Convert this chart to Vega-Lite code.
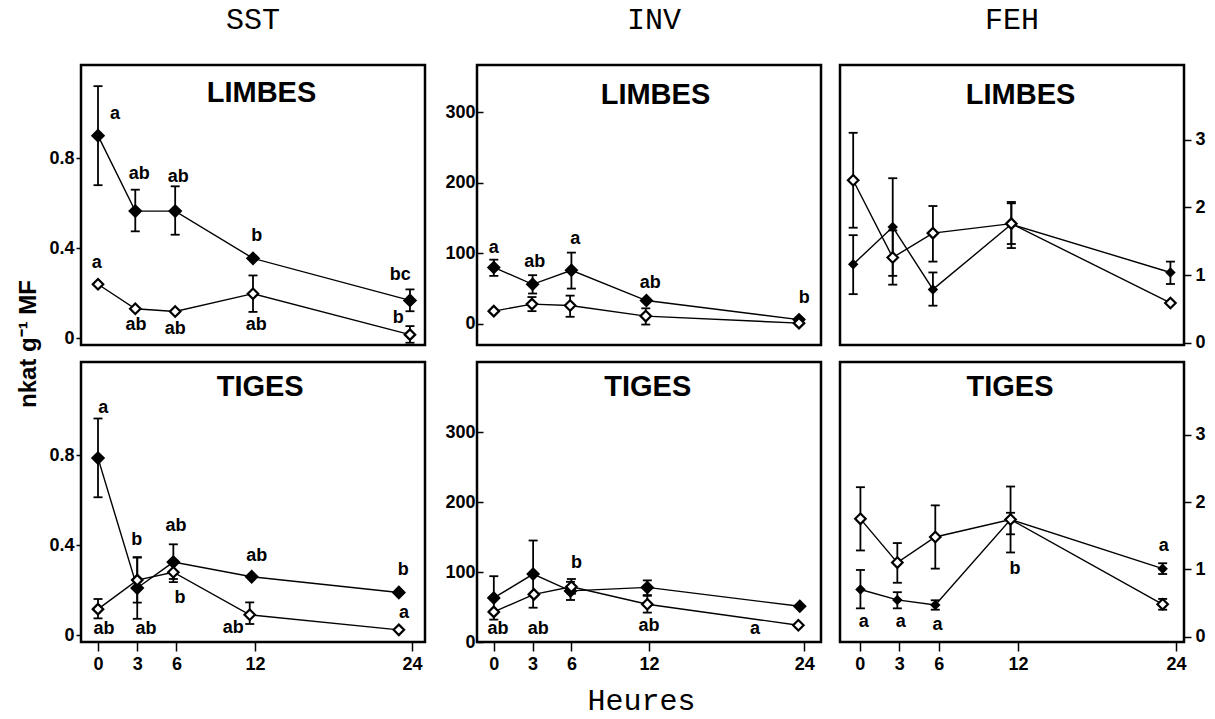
{
  "$schema": "https://vega.github.io/schema/vega-lite/v6.json",
  "background": "white",
  "padding": {"left": 14, "top": 3, "right": 5, "bottom": 0},
  "config": {
    "view": {"stroke": "black", "strokeWidth": 2.5},
    "axis": {"domain": false, "grid": false, "tickColor": "black", "tickWidth": 1.5, "labelFont": "Liberation Sans", "labelFontSize": 18, "labelFontWeight": "bold", "labelColor": "black", "titleColor": "black"},
    "font": "Liberation Sans"
  },
  "datasets": {
    "pts": [
      {"p": "SST_L", "s": "plein", "h": 0, "v": 0.9, "lo": 0.68, "hi": 1.12},
      {"p": "SST_L", "s": "plein", "h": 2.85, "v": 0.565, "lo": 0.475, "hi": 0.66},
      {"p": "SST_L", "s": "plein", "h": 5.9, "v": 0.565, "lo": 0.46, "hi": 0.675},
      {"p": "SST_L", "s": "plein", "h": 11.85, "v": 0.355, "lo": 0.355, "hi": 0.355},
      {"p": "SST_L", "s": "plein", "h": 23.85, "v": 0.168, "lo": 0.12, "hi": 0.217},
      {"p": "SST_L", "s": "vide", "h": 0, "v": 0.24, "lo": 0.24, "hi": 0.24},
      {"p": "SST_L", "s": "vide", "h": 2.85, "v": 0.131, "lo": 0.131, "hi": 0.131},
      {"p": "SST_L", "s": "vide", "h": 5.9, "v": 0.119, "lo": 0.119, "hi": 0.119},
      {"p": "SST_L", "s": "vide", "h": 11.85, "v": 0.198, "lo": 0.117, "hi": 0.279},
      {"p": "SST_L", "s": "vide", "h": 23.85, "v": 0.016, "lo": -0.02, "hi": 0.054},
      {"p": "SST_T", "s": "plein", "h": 0, "v": 0.787, "lo": 0.613, "hi": 0.963},
      {"p": "SST_T", "s": "plein", "h": 3.0, "v": 0.21, "lo": 0.073, "hi": 0.347},
      {"p": "SST_T", "s": "plein", "h": 5.76, "v": 0.325, "lo": 0.25, "hi": 0.404},
      {"p": "SST_T", "s": "plein", "h": 11.75, "v": 0.26, "lo": 0.26, "hi": 0.26},
      {"p": "SST_T", "s": "plein", "h": 23.0, "v": 0.19, "lo": 0.19, "hi": 0.19},
      {"p": "SST_T", "s": "vide", "h": 0, "v": 0.116, "lo": 0.075, "hi": 0.161},
      {"p": "SST_T", "s": "vide", "h": 3.0, "v": 0.245, "lo": 0.145, "hi": 0.345},
      {"p": "SST_T", "s": "vide", "h": 5.76, "v": 0.28, "lo": 0.236, "hi": 0.32},
      {"p": "SST_T", "s": "vide", "h": 11.6, "v": 0.091, "lo": 0.05, "hi": 0.146},
      {"p": "SST_T", "s": "vide", "h": 23.0, "v": 0.024, "lo": 0.024, "hi": 0.024},
      {"p": "INV_L", "s": "plein", "h": 0, "v": 80, "lo": 68, "hi": 91},
      {"p": "INV_L", "s": "plein", "h": 3.0, "v": 56, "lo": 43, "hi": 69},
      {"p": "INV_L", "s": "plein", "h": 6.0, "v": 76, "lo": 50, "hi": 101},
      {"p": "INV_L", "s": "plein", "h": 11.8, "v": 33, "lo": 33, "hi": 33},
      {"p": "INV_L", "s": "plein", "h": 23.6, "v": 6, "lo": 6, "hi": 6},
      {"p": "INV_L", "s": "vide", "h": 0, "v": 18, "lo": 18, "hi": 18},
      {"p": "INV_L", "s": "vide", "h": 2.95, "v": 28, "lo": 18, "hi": 38},
      {"p": "INV_L", "s": "vide", "h": 5.9, "v": 26, "lo": 10, "hi": 40},
      {"p": "INV_L", "s": "vide", "h": 11.75, "v": 11, "lo": -1, "hi": 22},
      {"p": "INV_L", "s": "vide", "h": 23.6, "v": 1, "lo": 1, "hi": 1},
      {"p": "INV_T", "s": "plein", "h": 0, "v": 63, "lo": 32, "hi": 94},
      {"p": "INV_T", "s": "plein", "h": 3.04, "v": 97, "lo": 49, "hi": 145},
      {"p": "INV_T", "s": "plein", "h": 5.93, "v": 73, "lo": 60, "hi": 86},
      {"p": "INV_T", "s": "plein", "h": 11.87, "v": 78, "lo": 67, "hi": 88},
      {"p": "INV_T", "s": "plein", "h": 23.66, "v": 51, "lo": 51, "hi": 51},
      {"p": "INV_T", "s": "vide", "h": 0, "v": 43, "lo": 43, "hi": 43},
      {"p": "INV_T", "s": "vide", "h": 3.1, "v": 68, "lo": 68, "hi": 68},
      {"p": "INV_T", "s": "vide", "h": 6.0, "v": 79, "lo": 69, "hi": 90},
      {"p": "INV_T", "s": "vide", "h": 11.87, "v": 54, "lo": 42, "hi": 66},
      {"p": "INV_T", "s": "vide", "h": 23.55, "v": 24, "lo": 24, "hi": 24},
      {"p": "FEH_L", "s": "plein", "h": -0.5, "v": 1.16, "lo": 0.72, "hi": 1.59},
      {"p": "FEH_L", "s": "plein", "h": 2.5, "v": 1.71, "lo": 0.99, "hi": 2.43},
      {"p": "FEH_L", "s": "plein", "h": 5.55, "v": 0.79, "lo": 0.55, "hi": 1.04},
      {"p": "FEH_L", "s": "plein", "h": 11.5, "v": 1.75, "lo": 1.4, "hi": 2.08},
      {"p": "FEH_L", "s": "plein", "h": 23.57, "v": 1.04, "lo": 0.87, "hi": 1.2},
      {"p": "FEH_L", "s": "vide", "h": -0.5, "v": 2.4, "lo": 1.7, "hi": 3.1},
      {"p": "FEH_L", "s": "vide", "h": 2.5, "v": 1.26, "lo": 0.86, "hi": 1.66},
      {"p": "FEH_L", "s": "vide", "h": 5.55, "v": 1.62, "lo": 1.2, "hi": 2.02},
      {"p": "FEH_L", "s": "vide", "h": 11.5, "v": 1.76, "lo": 1.46, "hi": 2.06},
      {"p": "FEH_L", "s": "vide", "h": 23.57, "v": 0.59, "lo": 0.59, "hi": 0.59},
      {"p": "FEH_T", "s": "plein", "h": 0.05, "v": 0.7, "lo": 0.42, "hi": 0.99},
      {"p": "FEH_T", "s": "plein", "h": 2.85, "v": 0.545, "lo": 0.42, "hi": 0.66},
      {"p": "FEH_T", "s": "plein", "h": 5.73, "v": 0.47, "lo": 0.4, "hi": 0.54},
      {"p": "FEH_T", "s": "plein", "h": 11.44, "v": 1.74, "lo": 1.52, "hi": 1.84},
      {"p": "FEH_T", "s": "plein", "h": 22.98, "v": 1.01, "lo": 0.93, "hi": 1.09},
      {"p": "FEH_T", "s": "vide", "h": 0.05, "v": 1.75, "lo": 1.28, "hi": 2.22},
      {"p": "FEH_T", "s": "vide", "h": 2.85, "v": 1.1, "lo": 0.8, "hi": 1.39},
      {"p": "FEH_T", "s": "vide", "h": 5.73, "v": 1.48, "lo": 1.01, "hi": 1.95},
      {"p": "FEH_T", "s": "vide", "h": 11.44, "v": 1.74, "lo": 1.25, "hi": 2.23},
      {"p": "FEH_T", "s": "vide", "h": 22.98, "v": 0.48, "lo": 0.4, "hi": 0.56}
    ],
    "lab": [
      {"p": "SST_L", "k": "titre", "t": "LIMBES", "h": 12.5, "v": 1.09},
      {"p": "SST_L", "k": "lettre", "t": "a", "h": 1.3, "v": 0.995},
      {"p": "SST_L", "k": "lettre", "t": "ab", "h": 3.16, "v": 0.73},
      {"p": "SST_L", "k": "lettre", "t": "ab", "h": 6.14, "v": 0.717},
      {"p": "SST_L", "k": "lettre", "t": "b", "h": 12.13, "v": 0.453},
      {"p": "SST_L", "k": "lettre", "t": "bc", "h": 23.1, "v": 0.279},
      {"p": "SST_L", "k": "lettre", "t": "a", "h": -0.1, "v": 0.335},
      {"p": "SST_L", "k": "lettre", "t": "ab", "h": 2.9, "v": 0.057},
      {"p": "SST_L", "k": "lettre", "t": "ab", "h": 5.9, "v": 0.042},
      {"p": "SST_L", "k": "lettre", "t": "ab", "h": 12.1, "v": 0.057},
      {"p": "SST_L", "k": "lettre", "t": "b", "h": 22.96, "v": 0.09},
      {"p": "SST_T", "k": "titre", "t": "TIGES", "h": 12.4, "v": 1.104},
      {"p": "SST_T", "k": "lettre", "t": "a", "h": 0.4, "v": 1.008},
      {"p": "SST_T", "k": "lettre", "t": "b", "h": 2.96, "v": 0.422},
      {"p": "SST_T", "k": "lettre", "t": "ab", "h": 5.96, "v": 0.486},
      {"p": "SST_T", "k": "lettre", "t": "b", "h": 6.27, "v": 0.166},
      {"p": "SST_T", "k": "lettre", "t": "ab", "h": 12.13, "v": 0.352},
      {"p": "SST_T", "k": "lettre", "t": "b", "h": 23.34, "v": 0.29},
      {"p": "SST_T", "k": "lettre", "t": "a", "h": 23.4, "v": 0.098},
      {"p": "SST_T", "k": "lettre", "t": "ab", "h": 0.46, "v": 0.027},
      {"p": "SST_T", "k": "lettre", "t": "ab", "h": 3.67, "v": 0.027},
      {"p": "SST_T", "k": "lettre", "t": "ab", "h": 10.34, "v": 0.031},
      {"p": "INV_L", "k": "titre", "t": "LIMBES", "h": 12.5, "v": 324.5},
      {"p": "INV_L", "k": "lettre", "t": "a", "h": 0, "v": 107},
      {"p": "INV_L", "k": "lettre", "t": "ab", "h": 3.17, "v": 88},
      {"p": "INV_L", "k": "lettre", "t": "a", "h": 6.3, "v": 121},
      {"p": "INV_L", "k": "lettre", "t": "ab", "h": 12.1, "v": 58},
      {"p": "INV_L", "k": "lettre", "t": "b", "h": 24, "v": 36},
      {"p": "INV_T", "k": "titre", "t": "TIGES", "h": 11.9, "v": 364.7},
      {"p": "INV_T", "k": "lettre", "t": "ab", "h": 0.33, "v": 18},
      {"p": "INV_T", "k": "lettre", "t": "ab", "h": 3.43, "v": 18},
      {"p": "INV_T", "k": "lettre", "t": "b", "h": 6.4, "v": 113},
      {"p": "INV_T", "k": "lettre", "t": "ab", "h": 12, "v": 23},
      {"p": "INV_T", "k": "lettre", "t": "a", "h": 20.2, "v": 19},
      {"p": "FEH_L", "k": "titre", "t": "LIMBES", "h": 12.2, "v": 3.657},
      {"p": "FEH_T", "k": "titre", "t": "TIGES", "h": 11.4, "v": 3.713},
      {"p": "FEH_T", "k": "lettre", "t": "a", "h": 0.3, "v": 0.21},
      {"p": "FEH_T", "k": "lettre", "t": "a", "h": 3.1, "v": 0.21},
      {"p": "FEH_T", "k": "lettre", "t": "a", "h": 5.9, "v": 0.17},
      {"p": "FEH_T", "k": "lettre", "t": "b", "h": 11.77, "v": 1.0},
      {"p": "FEH_T", "k": "lettre", "t": "a", "h": 23.06, "v": 1.35}
    ]
  },
  "spacing": 16,
  "hconcat": [
    {
      "vconcat": [
        {
          "width": 344, "height": 280,
          "title": {"text": "SST", "font": "Liberation Mono", "fontSize": 30, "fontWeight": "normal", "color": "black", "offset": 30, "anchor": "middle", "frame": "group"},
          "data": {"name": "pts"},
          "transform": [{"filter": "datum.p == 'SST_L'"}],
          "encoding": {
            "x": {"field": "h", "type": "quantitative", "scale": {"domain": [-1.3, 25], "nice": false, "zero": false}, "axis": null},
            "y": {"field": "v", "type": "quantitative", "scale": {"domain": [-0.03, 1.214], "nice": false, "zero": false},
                  "axis": {"values": [0, 0.4, 0.8], "labelExpr": "datum.value == 0 ? '0' : format(datum.value, '.1f')", "tickSize": 5, "labelPadding": 2,
                           "title": "nkat g⁻¹ MF", "titleFont": "Liberation Sans", "titleFontSize": 24, "titleFontWeight": "bold", "titleX": -53, "titleY": 278.5, "titleBaseline": "middle", "titleAlign": "center", "titleAngle": 270}}
          },
          "layer": [
            {"mark": {"type": "line", "color": "black", "strokeWidth": 1.4}, "encoding": {"detail": {"field": "s"}}},
            {"mark": {"type": "rule", "color": "black", "strokeWidth": 1.8}, "encoding": {"y": {"field": "lo", "type": "quantitative"}, "y2": {"field": "hi"}}},
            {"mark": {"type": "tick", "orient": "horizontal", "color": "black", "size": 9, "thickness": 1.8, "opacity": 1}, "encoding": {"y": {"field": "lo", "type": "quantitative"}}},
            {"mark": {"type": "tick", "orient": "horizontal", "color": "black", "size": 9, "thickness": 1.8, "opacity": 1}, "encoding": {"y": {"field": "hi", "type": "quantitative"}}},
            {"transform": [{"filter": "datum.s == 'plein'"}], "mark": {"type": "point", "shape": "diamond", "filled": true, "fill": "black", "stroke": "black", "strokeWidth": 1.5, "size": 150, "opacity": 1}},
            {"transform": [{"filter": "datum.s == 'vide'"}], "mark": {"type": "point", "shape": "diamond", "filled": true, "fill": "white", "stroke": "black", "strokeWidth": 2.2, "size": 110, "opacity": 1}},
            {"data": {"name": "lab"}, "transform": [{"filter": "datum.p == 'SST_L' && datum.k == 'lettre'"}], "mark": {"type": "text", "font": "Liberation Sans", "fontWeight": "bold", "fontSize": 18, "color": "black", "baseline": "middle", "align": "center"}, "encoding": {"text": {"field": "t"}}},
            {"data": {"name": "lab"}, "transform": [{"filter": "datum.p == 'SST_L' && datum.k == 'titre'"}], "mark": {"type": "text", "font": "Liberation Sans", "fontWeight": "bold", "fontSize": 29, "color": "black", "baseline": "middle", "align": "center"}, "encoding": {"text": {"field": "t"}}}
          ]
        },
        {
          "width": 344, "height": 280,
          "data": {"name": "pts"},
          "transform": [{"filter": "datum.p == 'SST_T'"}],
          "encoding": {
            "x": {"field": "h", "type": "quantitative", "scale": {"domain": [-1.3, 25], "nice": false, "zero": false}, "axis": {"values": [0, 3, 6, 12, 24], "tickSize": 9, "labelPadding": 4, "title": null}},
            "y": {"field": "v", "type": "quantitative", "scale": {"domain": [-0.03, 1.214], "nice": false, "zero": false},
                  "axis": {"values": [0, 0.4, 0.8], "labelExpr": "datum.value == 0 ? '0' : format(datum.value, '.1f')", "tickSize": 5, "labelPadding": 2, "title": null}}
          },
          "layer": [
            {"mark": {"type": "line", "color": "black", "strokeWidth": 1.4}, "encoding": {"detail": {"field": "s"}}},
            {"mark": {"type": "rule", "color": "black", "strokeWidth": 1.8}, "encoding": {"y": {"field": "lo", "type": "quantitative"}, "y2": {"field": "hi"}}},
            {"mark": {"type": "tick", "orient": "horizontal", "color": "black", "size": 9, "thickness": 1.8, "opacity": 1}, "encoding": {"y": {"field": "lo", "type": "quantitative"}}},
            {"mark": {"type": "tick", "orient": "horizontal", "color": "black", "size": 9, "thickness": 1.8, "opacity": 1}, "encoding": {"y": {"field": "hi", "type": "quantitative"}}},
            {"transform": [{"filter": "datum.s == 'plein'"}], "mark": {"type": "point", "shape": "diamond", "filled": true, "fill": "black", "stroke": "black", "strokeWidth": 1.5, "size": 150, "opacity": 1}},
            {"transform": [{"filter": "datum.s == 'vide'"}], "mark": {"type": "point", "shape": "diamond", "filled": true, "fill": "white", "stroke": "black", "strokeWidth": 2.2, "size": 110, "opacity": 1}},
            {"data": {"name": "lab"}, "transform": [{"filter": "datum.p == 'SST_T' && datum.k == 'lettre'"}], "mark": {"type": "text", "font": "Liberation Sans", "fontWeight": "bold", "fontSize": 18, "color": "black", "baseline": "middle", "align": "center"}, "encoding": {"text": {"field": "t"}}},
            {"data": {"name": "lab"}, "transform": [{"filter": "datum.p == 'SST_T' && datum.k == 'titre'"}], "mark": {"type": "text", "font": "Liberation Sans", "fontWeight": "bold", "fontSize": 29, "color": "black", "baseline": "middle", "align": "center"}, "encoding": {"text": {"field": "t"}}}
          ]
        }
      ],
      "spacing": 17,
      "bounds": "flush"
    },
    {
      "spacing": 15,
      "hconcat": [
        {
          "vconcat": [
            {
              "width": 344, "height": 280,
              "title": {"text": "INV", "font": "Liberation Mono", "fontSize": 30, "fontWeight": "normal", "color": "black", "offset": 30, "anchor": "middle", "frame": "group", "dx": 5},
              "data": {"name": "pts"},
              "transform": [{"filter": "datum.p == 'INV_L'"}],
              "encoding": {
                "x": {"field": "h", "type": "quantitative", "scale": {"domain": [-1.3, 25.3], "nice": false, "zero": false}, "axis": null},
                "y": {"field": "v", "type": "quantitative", "scale": {"domain": [-30, 367], "nice": false, "zero": false},
                      "axis": {"values": [0, 100, 200, 300], "tickSize": -6, "labelPadding": 8, "title": null}}
              },
              "layer": [
                {"mark": {"type": "line", "color": "black", "strokeWidth": 1.4}, "encoding": {"detail": {"field": "s"}}},
                {"mark": {"type": "rule", "color": "black", "strokeWidth": 1.8}, "encoding": {"y": {"field": "lo", "type": "quantitative"}, "y2": {"field": "hi"}}},
                {"mark": {"type": "tick", "orient": "horizontal", "color": "black", "size": 9, "thickness": 1.8, "opacity": 1}, "encoding": {"y": {"field": "lo", "type": "quantitative"}}},
                {"mark": {"type": "tick", "orient": "horizontal", "color": "black", "size": 9, "thickness": 1.8, "opacity": 1}, "encoding": {"y": {"field": "hi", "type": "quantitative"}}},
                {"transform": [{"filter": "datum.s == 'plein'"}], "mark": {"type": "point", "shape": "diamond", "filled": true, "fill": "black", "stroke": "black", "strokeWidth": 1.5, "size": 140, "opacity": 1}},
                {"transform": [{"filter": "datum.s == 'vide'"}], "mark": {"type": "point", "shape": "diamond", "filled": true, "fill": "white", "stroke": "black", "strokeWidth": 2.2, "size": 110, "opacity": 1}},
                {"data": {"name": "lab"}, "transform": [{"filter": "datum.p == 'INV_L' && datum.k == 'lettre'"}], "mark": {"type": "text", "font": "Liberation Sans", "fontWeight": "bold", "fontSize": 18, "color": "black", "baseline": "middle", "align": "center"}, "encoding": {"text": {"field": "t"}}},
                {"data": {"name": "lab"}, "transform": [{"filter": "datum.p == 'INV_L' && datum.k == 'titre'"}], "mark": {"type": "text", "font": "Liberation Sans", "fontWeight": "bold", "fontSize": 29, "color": "black", "baseline": "middle", "align": "center"}, "encoding": {"text": {"field": "t"}}}
              ]
            },
            {
              "width": 344, "height": 280,
              "data": {"name": "pts"},
              "transform": [{"filter": "datum.p == 'INV_T'"}],
              "encoding": {
                "x": {"field": "h", "type": "quantitative", "scale": {"domain": [-1.3, 25.3], "nice": false, "zero": false},
                      "axis": {"values": [0, 3, 6, 12, 24], "tickSize": 9, "labelPadding": 4, "title": "Heures", "titleFont": "Liberation Mono", "titleFontSize": 30, "titleFontWeight": "normal", "titleX": 164, "titleY": 58, "titleBaseline": "middle", "titleAlign": "center"}},
                "y": {"field": "v", "type": "quantitative", "scale": {"domain": [0, 400], "nice": false, "zero": false},
                      "axis": {"values": [0, 100, 200, 300], "tickSize": -6, "labelPadding": 8, "title": null}}
              },
              "layer": [
                {"mark": {"type": "line", "color": "black", "strokeWidth": 1.4}, "encoding": {"detail": {"field": "s"}}},
                {"mark": {"type": "rule", "color": "black", "strokeWidth": 1.8}, "encoding": {"y": {"field": "lo", "type": "quantitative"}, "y2": {"field": "hi"}}},
                {"mark": {"type": "tick", "orient": "horizontal", "color": "black", "size": 9, "thickness": 1.8, "opacity": 1}, "encoding": {"y": {"field": "lo", "type": "quantitative"}}},
                {"mark": {"type": "tick", "orient": "horizontal", "color": "black", "size": 9, "thickness": 1.8, "opacity": 1}, "encoding": {"y": {"field": "hi", "type": "quantitative"}}},
                {"transform": [{"filter": "datum.s == 'plein'"}], "mark": {"type": "point", "shape": "diamond", "filled": true, "fill": "black", "stroke": "black", "strokeWidth": 1.5, "size": 140, "opacity": 1}},
                {"transform": [{"filter": "datum.s == 'vide'"}], "mark": {"type": "point", "shape": "diamond", "filled": true, "fill": "white", "stroke": "black", "strokeWidth": 2.2, "size": 110, "opacity": 1}},
                {"data": {"name": "lab"}, "transform": [{"filter": "datum.p == 'INV_T' && datum.k == 'lettre'"}], "mark": {"type": "text", "font": "Liberation Sans", "fontWeight": "bold", "fontSize": 18, "color": "black", "baseline": "middle", "align": "center"}, "encoding": {"text": {"field": "t"}}},
                {"data": {"name": "lab"}, "transform": [{"filter": "datum.p == 'INV_T' && datum.k == 'titre'"}], "mark": {"type": "text", "font": "Liberation Sans", "fontWeight": "bold", "fontSize": 29, "color": "black", "baseline": "middle", "align": "center"}, "encoding": {"text": {"field": "t"}}}
              ]
            }
          ],
          "spacing": 17,
          "bounds": "flush"
        },
        {
          "vconcat": [
            {
              "width": 344, "height": 280,
              "title": {"text": "FEH", "font": "Liberation Mono", "fontSize": 30, "fontWeight": "normal", "color": "black", "offset": 30, "anchor": "middle", "frame": "group"},
              "data": {"name": "pts"},
              "transform": [{"filter": "datum.p == 'FEH_L'"}],
              "encoding": {
                "x": {"field": "h", "type": "quantitative", "scale": {"domain": [-1.5, 24.6], "nice": false, "zero": false}, "axis": null},
                "y": {"field": "v", "type": "quantitative", "scale": {"domain": [-0.03, 4.1], "nice": false, "zero": false},
                      "axis": {"orient": "right", "values": [0, 1, 2, 3], "tickSize": 7, "labelPadding": 4, "title": null}}
              },
              "layer": [
                {"mark": {"type": "line", "color": "black", "strokeWidth": 1.4}, "encoding": {"detail": {"field": "s"}}},
                {"mark": {"type": "rule", "color": "black", "strokeWidth": 1.8}, "encoding": {"y": {"field": "lo", "type": "quantitative"}, "y2": {"field": "hi"}}},
                {"mark": {"type": "tick", "orient": "horizontal", "color": "black", "size": 9, "thickness": 1.8, "opacity": 1}, "encoding": {"y": {"field": "lo", "type": "quantitative"}}},
                {"mark": {"type": "tick", "orient": "horizontal", "color": "black", "size": 9, "thickness": 1.8, "opacity": 1}, "encoding": {"y": {"field": "hi", "type": "quantitative"}}},
                {"transform": [{"filter": "datum.s == 'plein'"}], "mark": {"type": "point", "shape": "diamond", "filled": true, "fill": "black", "stroke": "black", "strokeWidth": 1.5, "size": 70, "opacity": 1}},
                {"transform": [{"filter": "datum.s == 'vide'"}], "mark": {"type": "point", "shape": "diamond", "filled": true, "fill": "white", "stroke": "black", "strokeWidth": 2.2, "size": 110, "opacity": 1}},
                {"data": {"name": "lab"}, "transform": [{"filter": "datum.p == 'FEH_L' && datum.k == 'titre'"}], "mark": {"type": "text", "font": "Liberation Sans", "fontWeight": "bold", "fontSize": 29, "color": "black", "baseline": "middle", "align": "center"}, "encoding": {"text": {"field": "t"}}}
              ]
            },
            {
              "width": 344, "height": 280,
              "data": {"name": "pts"},
              "transform": [{"filter": "datum.p == 'FEH_T'"}],
              "encoding": {
                "x": {"field": "h", "type": "quantitative", "scale": {"domain": [-1.5, 24.6], "nice": false, "zero": false}, "axis": {"values": [0, 3, 6, 12, 24], "tickSize": 9, "labelPadding": 4, "title": null}},
                "y": {"field": "v", "type": "quantitative", "scale": {"domain": [-0.08, 4.08], "nice": false, "zero": false},
                      "axis": {"orient": "right", "values": [0, 1, 2, 3], "tickSize": 7, "labelPadding": 4, "title": null}}
              },
              "layer": [
                {"mark": {"type": "line", "color": "black", "strokeWidth": 1.4}, "encoding": {"detail": {"field": "s"}}},
                {"mark": {"type": "rule", "color": "black", "strokeWidth": 1.8}, "encoding": {"y": {"field": "lo", "type": "quantitative"}, "y2": {"field": "hi"}}},
                {"mark": {"type": "tick", "orient": "horizontal", "color": "black", "size": 9, "thickness": 1.8, "opacity": 1}, "encoding": {"y": {"field": "lo", "type": "quantitative"}}},
                {"mark": {"type": "tick", "orient": "horizontal", "color": "black", "size": 9, "thickness": 1.8, "opacity": 1}, "encoding": {"y": {"field": "hi", "type": "quantitative"}}},
                {"transform": [{"filter": "datum.s == 'plein'"}], "mark": {"type": "point", "shape": "diamond", "filled": true, "fill": "black", "stroke": "black", "strokeWidth": 1.5, "size": 70, "opacity": 1}},
                {"transform": [{"filter": "datum.s == 'vide'"}], "mark": {"type": "point", "shape": "diamond", "filled": true, "fill": "white", "stroke": "black", "strokeWidth": 2.2, "size": 110, "opacity": 1}},
                {"data": {"name": "lab"}, "transform": [{"filter": "datum.p == 'FEH_T' && datum.k == 'lettre'"}], "mark": {"type": "text", "font": "Liberation Sans", "fontWeight": "bold", "fontSize": 18, "color": "black", "baseline": "middle", "align": "center"}, "encoding": {"text": {"field": "t"}}},
                {"data": {"name": "lab"}, "transform": [{"filter": "datum.p == 'FEH_T' && datum.k == 'titre'"}], "mark": {"type": "text", "font": "Liberation Sans", "fontWeight": "bold", "fontSize": 29, "color": "black", "baseline": "middle", "align": "center"}, "encoding": {"text": {"field": "t"}}}
              ]
            }
          ],
          "spacing": 17,
          "bounds": "flush"
        }
      ]
    }
  ]
}
